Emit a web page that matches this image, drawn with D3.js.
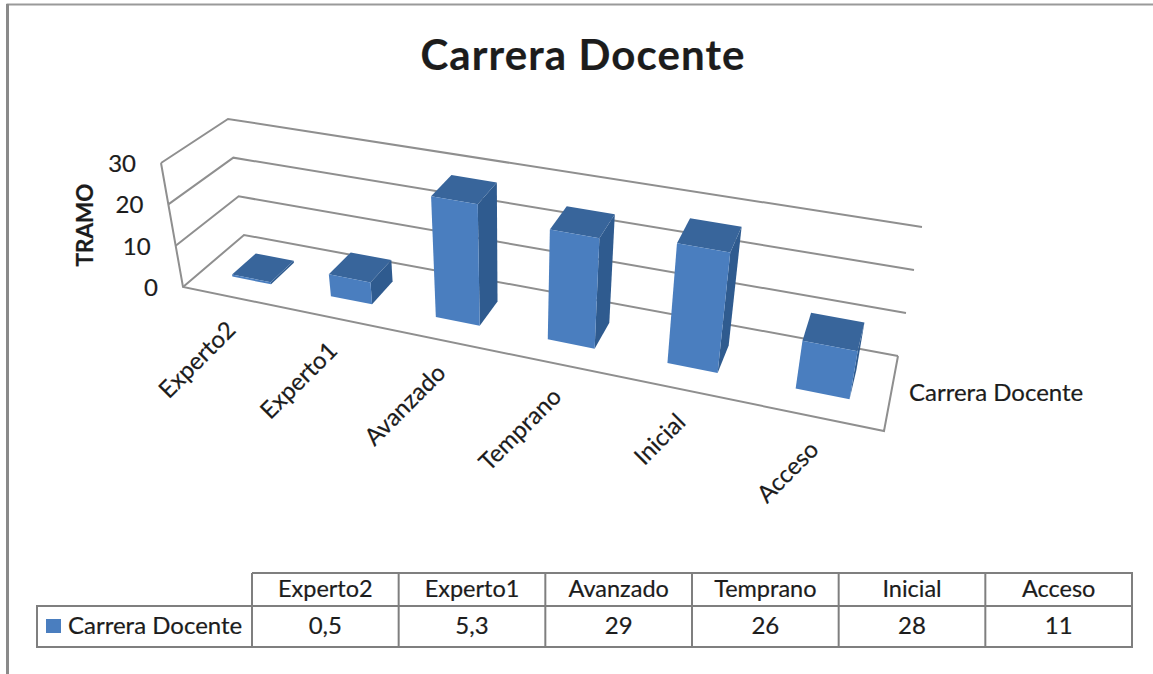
<!DOCTYPE html>
<html lang="es">
<head>
  <meta charset="UTF-8" />
  <title>Carrera Docente</title>
  <script src="https://d3js.org/d3.v7.min.js"></script>
  <style>
    body { margin: 0; overflow: hidden; background: #fff; }
    text { font-family: Lato, "Open Sans", sans-serif; fill: #1c1c1c; stroke: #1c1c1c; stroke-width: 0.2px; }
    .grid { fill: none; stroke: #8f8f8f; stroke-width: 2px; }
    .cell { stroke: #7f7f7f; stroke-width: 2px; fill: none; }
  </style>
</head>
<body>
  <svg width="1153" height="674"></svg>
  <script>
    const width = 1153, height = 674;

    const categories = ["Experto2", "Experto1", "Avanzado", "Temprano", "Inicial", "Acceso"];
    const values = [0.5, 5.3, 29, 26, 28, 11];
    const valueLabels = ["0,5", "5,3", "29", "26", "28", "11"];
    const valueTicks = [0, 10, 20, 30];
    const seriesName = "Carrera Docente";

    const svg = d3.select("svg");

    // Homografia del cuadrado unidad sobre un cuadrilatero (o, x, y, xy)
    function quadMap(o, x, y, xy) {
      const a1 = [x[0] - xy[0], x[1] - xy[1]], a2 = [y[0] - xy[0], y[1] - xy[1]], r = [o[0] - xy[0], o[1] - xy[1]];
      const det = a1[0] * a2[1] - a1[1] * a2[0];
      const wx = (r[0] * a2[1] - r[1] * a2[0]) / det;
      const wy = (a1[0] * r[1] - a1[1] * r[0]) / det;
      return (u, v) => {
        const d = 1 + u * (wx - 1) + v * (wy - 1);
        return [0, 1].map(i => (o[i] + u * (wx * x[i] - o[i]) + v * (wy * y[i] - o[i])) / d);
      };
    }

    // Caja 3D: suelo en pantalla y altura total en cada esquina
    const floorO = [183, 287], floorX = [884, 431], floorY = [244, 235], floorXY = [898, 356];
    const floorMap = quadMap(floorO, floorX, floorY, floorXY);
    const riseO = [-22, -124], riseX = [25, -133], riseY = [-16, -116], riseXY = [24, -129];

    function project(x, y, z) {
      const p = floorMap(x, y);
      // la altura se interpola segun la posicion en pantalla, asi las aristas convergen
      const left = floorMap(0, y)[0], right = floorMap(1, y)[0];
      const t = (p[0] - left) / (right - left);
      return [0, 1].map(i => {
        const front = riseO[i] + (riseX[i] - riseO[i]) * t;
        const back = riseY[i] + (riseXY[i] - riseY[i]) * t;
        return p[i] + (front + (back - front) * y) * z;
      });
    }

    const xBand = d3.scaleBand().domain(categories).range([0.003, 1.003]).paddingInner(0.6).paddingOuter(0.3);
    const depth = d3.scaleBand().domain([seriesName]).range([0, 1]).paddingOuter(0.75);
    const zScale = d3.scaleLinear().domain([0, 30]).range([0, 1]);
    const line = d3.line();

    // Marco de la imagen
    svg.append("path").attr("d", `M7.5,674V4.5H${width}`)
      .attr("fill", "none").attr("stroke", "#9a9a9a").attr("stroke-width", 2);
    svg.append("rect").attr("x", 6).attr("y", 4).attr("width", 3).attr("height", height - 4).attr("fill", "#8a8a8a");

    svg.append("text").attr("x", 583).attr("y", 70).attr("text-anchor", "middle")
      .attr("font-size", 42).attr("font-weight", 700).attr("letter-spacing", 1.1).text("Carrera Docente");

    // Paredes y suelo
    const walls = svg.append("g");
    valueTicks.forEach(t => {
      const z = zScale(t);
      walls.append("path").attr("class", "grid")
        .attr("d", line([project(0, 0, z), project(0, 1, z), project(1, 1, z)]));
      svg.append("text").attr("x", project(0, 0, z)[0] - 25).attr("y", project(0, 0, z)[1] + 9)
        .attr("text-anchor", "end").attr("font-size", 24).text(t);
    });
    walls.append("path").attr("class", "grid")
      .attr("d", line([project(0, 0, 1), project(0, 0, 0), project(1, 0, 0), project(1, 1, 0)]));

    svg.append("text").attr("transform", "translate(93,225) rotate(-90)").attr("text-anchor", "middle")
      .attr("font-size", 22.5).attr("font-weight", 700).text("TRAMO");

    // Barras
    const d0 = depth(seriesName), d1 = d0 + depth.bandwidth();
    const faces = [
      { fill: "#2f5b8f", pts: (a, b, h) => [[b, d0, 0], [b, d1, 0], [b, d1, h], [b, d0, h]] },
      { fill: "#38659b", pts: (a, b, h) => [[a, d0, h], [b, d0, h], [b, d1, h], [a, d1, h]] },
      { fill: "#4a7ebf", pts: (a, b, h) => [[a, d0, 0], [b, d0, 0], [b, d0, h], [a, d0, h]] }
    ];
    const bars = svg.selectAll("g.bar").data(categories).enter().append("g").attr("class", "bar");
    faces.forEach(f => {
      bars.append("path").attr("fill", f.fill)
        .attr("d", (c, i) => {
          const a = xBand(c), b = a + xBand.bandwidth();
          return line(f.pts(a, b, zScale(values[i])).map(p => project(...p))) + "Z";
        });
    });

    // Etiquetas de categoria
    svg.selectAll("text.cat").data(categories).enter().append("text").attr("class", "cat")
      .attr("text-anchor", "end").attr("font-size", 24)
      .attr("transform", c => {
        const p = project(xBand(c) + xBand.bandwidth() / 2, 0, 0);
        return `translate(${p[0] + 4},${p[1] + 34}) rotate(-45)`;
      })
      .text(c => c);

    svg.append("text").attr("x", 909).attr("y", 401).attr("font-size", 24).text(seriesName);

    // Tabla de datos
    const colX = d3.scaleBand().domain(categories).range([252, 1132]);
    const rowY = [573, 606, 647], tableLeft = 37;
    const table = svg.append("g");
    table.append("path").attr("class", "cell")
      .attr("d", `M252,${rowY[0]}H1132V${rowY[2]}H${tableLeft}V${rowY[1]}H1132`);
    table.selectAll("line.col").data(categories).enter().append("line").attr("class", "cell")
      .attr("x1", c => colX(c)).attr("x2", c => colX(c)).attr("y1", rowY[0]).attr("y2", rowY[2]);
    table.selectAll("text.head").data(categories).enter().append("text").attr("class", "head")
      .attr("x", c => colX(c) + colX.bandwidth() / 2).attr("y", 597)
      .attr("text-anchor", "middle").attr("font-size", 23.5).text(c => c);
    table.selectAll("text.val").data(valueLabels).enter().append("text").attr("class", "val")
      .attr("x", (v, i) => colX(categories[i]) + colX.bandwidth() / 2).attr("y", 634)
      .attr("text-anchor", "middle").attr("font-size", 24).text(v => v);
    table.append("rect").attr("x", 46).attr("y", 619).attr("width", 15).attr("height", 14).attr("fill", "#4a7ebf");
    table.append("text").attr("x", 68).attr("y", 634).attr("font-size", 24).text(seriesName);
  </script>
</body>
</html>
